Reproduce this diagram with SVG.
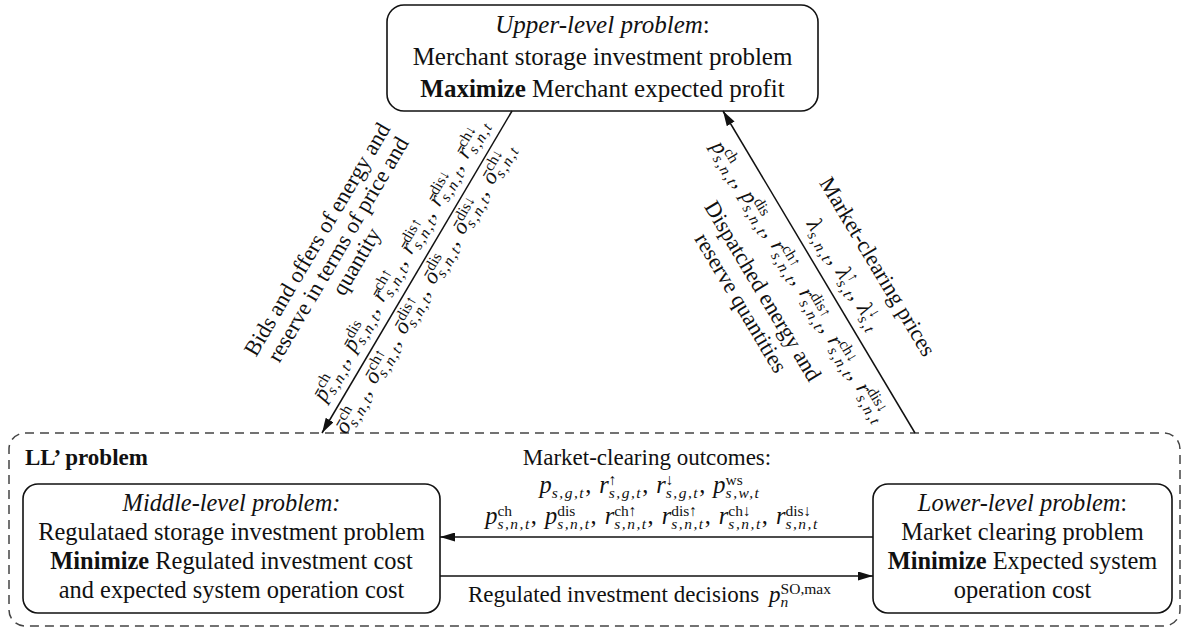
<svg xmlns="http://www.w3.org/2000/svg" width="1183" height="629" viewBox="0 0 1183 629">
<style>
.f{font-family:"Liberation Serif","Times New Roman",serif;fill:#111}
.b{font-size:24.4px}
.u{font-size:25px}
.r{font-size:22.5px}
.mi{font-style:italic}
.it{font-style:italic}
.bd{font-weight:bold}
.sp{font-size:15.5px;font-style:normal}
.sb{font-size:15.5px;font-style:italic;letter-spacing:1.5px}
.box{fill:#fff;stroke:#111;stroke-width:1.6}
.con{stroke:#111;stroke-width:1.5;fill:none}
</style>
<defs>
<marker id="ah" viewBox="0 0 15 9" refX="15" refY="4.5" markerWidth="15" markerHeight="9" markerUnits="userSpaceOnUse" orient="auto" preserveAspectRatio="none"><path d="M0,0 L15,4.5 L0,9 z" fill="#111"/></marker>
</defs>
<rect width="1183" height="629" fill="#fff"/>

<g id="ll-problem">
<rect x="9" y="433" width="1171" height="193" rx="16" fill="none" stroke="#444" stroke-width="1.5" stroke-dasharray="9 6"/>
<text class="f bd" x="25" y="465" font-size="23">LL’ problem</text>
</g>

<g id="upper">
<rect class="box" x="387" y="5" width="431" height="106" rx="17"/>
<text class="f u" x="602.5" y="33" text-anchor="middle"><tspan class="it">Upper-level problem</tspan>:</text>
<text class="f u" x="602.5" y="65" text-anchor="middle">Merchant storage investment problem</text>
<text class="f u" x="602.5" y="97" text-anchor="middle"><tspan class="bd">Maximize</tspan> Merchant expected profit</text>
</g>

<g id="middle">
<rect class="box" x="23" y="484" width="417" height="129" rx="15"/>
<text class="f b it" x="231.5" y="511" text-anchor="middle">Middle-level problem:</text>
<text class="f b" x="231.5" y="540" text-anchor="middle">Regulataed storage investment problem</text>
<text class="f b" x="231.5" y="569" text-anchor="middle"><tspan class="bd">Minimize</tspan> Regulated investment cost</text>
<text class="f b" x="231.5" y="598" text-anchor="middle">and expected system operation cost</text>
</g>

<g id="lower">
<rect class="box" x="873" y="484" width="299" height="129" rx="15"/>
<text class="f b" x="1022.5" y="511" text-anchor="middle"><tspan class="it">Lower-level problem</tspan>:</text>
<text class="f b" x="1022.5" y="540" text-anchor="middle">Market clearing problem</text>
<text class="f b" x="1022.5" y="569" text-anchor="middle"><tspan class="bd">Minimize</tspan> Expected system</text>
<text class="f b" x="1022.5" y="598" text-anchor="middle">operation cost</text>
</g>

<g id="connectors">
<line class="con" x1="512" y1="111" x2="322" y2="433" marker-end="url(#ah)"/>
<line class="con" x1="915" y1="433" x2="723" y2="111" marker-end="url(#ah)"/>
<line class="con" x1="873" y1="537" x2="440" y2="537" marker-end="url(#ah)"/>
<line class="con" x1="440" y1="576" x2="873" y2="576" marker-end="url(#ah)"/>

<g id="label-bids" transform="translate(417 271.5) rotate(-59.54)">
<text class="f r" x="-23" y="-95" text-anchor="middle">Bids and offers of energy and</text>
<text class="f r" x="-21" y="-72" text-anchor="middle">reserve in terms of price and</text>
<text class="f r" x="-22" y="-50" text-anchor="middle">quantity</text>
<text class="f r" x="2" y="-13" text-anchor="middle"><tspan class="mi">p&#x304;</tspan><tspan class="sp" dy="-8">ch</tspan><tspan class="sb" dx="-14.6" dy="13">s,n,t</tspan><tspan dy="-5">, </tspan><tspan class="mi" dx="2">p&#x304;</tspan><tspan class="sp" dy="-8">dis</tspan><tspan class="sb" dx="-18.1" dy="13">s,n,t</tspan><tspan dy="-5">, </tspan><tspan class="mi" dx="2">r&#x304;</tspan><tspan class="sp" dy="-8">ch↑</tspan><tspan class="sb" dx="-22.4" dy="13">s,n,t</tspan><tspan dy="-5">, </tspan><tspan class="mi" dx="2">r&#x304;</tspan><tspan class="sp" dy="-8">dis↑</tspan><tspan class="sb" dx="-25.8" dy="13">s,n,t</tspan><tspan dy="-5">, </tspan><tspan class="mi" dx="2">r&#x304;</tspan><tspan class="sp" dy="-8">dis↓</tspan><tspan class="sb" dx="-25.8" dy="13">s,n,t</tspan><tspan dy="-5">, </tspan><tspan class="mi" dx="2">r&#x304;</tspan><tspan class="sp" dy="-8">ch↓</tspan><tspan class="sb" dx="-22.4" dy="13">s,n,t</tspan></text>
<text class="f r" x="-10" y="22" text-anchor="middle"><tspan class="mi">ō</tspan><tspan class="sp" dy="-8">ch</tspan><tspan class="sb" dx="-14.6" dy="13">s,n,t</tspan><tspan dy="-5">, </tspan><tspan class="mi" dx="2">ō</tspan><tspan class="sp" dy="-8">ch↑</tspan><tspan class="sb" dx="-22.4" dy="13">s,n,t</tspan><tspan dy="-5">, </tspan><tspan class="mi" dx="2">ō</tspan><tspan class="sp" dy="-8">dis↑</tspan><tspan class="sb" dx="-25.8" dy="13">s,n,t</tspan><tspan dy="-5">, </tspan><tspan class="mi" dx="2">ō</tspan><tspan class="sp" dy="-8">dis</tspan><tspan class="sb" dx="-18.1" dy="13">s,n,t</tspan><tspan dy="-5">, </tspan><tspan class="mi" dx="2">ō</tspan><tspan class="sp" dy="-8">dis↓</tspan><tspan class="sb" dx="-25.8" dy="13">s,n,t</tspan><tspan dy="-5">, </tspan><tspan class="mi" dx="2">ō</tspan><tspan class="sp" dy="-8">ch↓</tspan><tspan class="sb" dx="-22.4" dy="13">s,n,t</tspan></text>
</g>

<g id="label-prices" transform="translate(819 272.5) rotate(59.11)">
<text class="f r" x="25" y="-46" text-anchor="middle">Market-clearing prices</text>
<text class="f r" x="15" y="-14" text-anchor="middle"><tspan class="mi">λ</tspan><tspan class="sb" dy="5">s,n,t</tspan><tspan dy="-5">, </tspan><tspan class="mi" dx="2">λ</tspan><tspan class="sp" dy="-8">↑</tspan><tspan class="sb" dx="-7.8" dy="13">s,t</tspan><tspan dy="-5">, </tspan><tspan class="mi" dx="2">λ</tspan><tspan class="sp" dy="-8">↓</tspan><tspan class="sb" dx="-7.8" dy="13">s,t</tspan></text>
<text class="f r" x="-2" y="28" text-anchor="middle"><tspan class="mi">p</tspan><tspan class="sp" dy="-8">ch</tspan><tspan class="sb" dx="-14.6" dy="13">s,n,t</tspan><tspan dy="-5">, </tspan><tspan class="mi" dx="2">p</tspan><tspan class="sp" dy="-8">dis</tspan><tspan class="sb" dx="-18.1" dy="13">s,n,t</tspan><tspan dy="-5">, </tspan><tspan class="mi" dx="2">r</tspan><tspan class="sp" dy="-8">ch↑</tspan><tspan class="sb" dx="-22.4" dy="13">s,n,t</tspan><tspan dy="-5">, </tspan><tspan class="mi" dx="2">r</tspan><tspan class="sp" dy="-8">dis↑</tspan><tspan class="sb" dx="-25.8" dy="13">s,n,t</tspan><tspan dy="-5">, </tspan><tspan class="mi" dx="2">r</tspan><tspan class="sp" dy="-8">ch↓</tspan><tspan class="sb" dx="-22.4" dy="13">s,n,t</tspan><tspan dy="-5">, </tspan><tspan class="mi" dx="2">r</tspan><tspan class="sp" dy="-8">dis↓</tspan><tspan class="sb" dx="-25.8" dy="13">s,n,t</tspan></text>
<text class="f r" x="-13" y="65" text-anchor="middle">Dispatched energy and</text>
<text class="f r" x="-14" y="90" text-anchor="middle">reserve quantities</text>
</g>

<g id="label-outcomes">
<text class="f" x="647" y="465" text-anchor="middle" font-size="23">Market-clearing outcomes:</text>
<text class="f b" x="650" y="493" text-anchor="middle"><tspan class="mi">p</tspan><tspan class="sb" dy="5">s,g,t</tspan><tspan dy="-5">, </tspan><tspan class="mi" dx="2">r</tspan><tspan class="sp" dy="-8">↑</tspan><tspan class="sb" dx="-7.8" dy="13">s,g,t</tspan><tspan dy="-5">, </tspan><tspan class="mi" dx="2">r</tspan><tspan class="sp" dy="-8">↓</tspan><tspan class="sb" dx="-7.8" dy="13">s,g,t</tspan><tspan dy="-5">, </tspan><tspan class="mi" dx="2">p</tspan><tspan class="sp" dy="-8">ws</tspan><tspan class="sb" dx="-17.2" dy="13">s,w,t</tspan></text>
<text class="f b" x="652" y="524" text-anchor="middle"><tspan class="mi">p</tspan><tspan class="sp" dy="-8">ch</tspan><tspan class="sb" dx="-14.6" dy="13">s,n,t</tspan><tspan dy="-5">, </tspan><tspan class="mi" dx="2">p</tspan><tspan class="sp" dy="-8">dis</tspan><tspan class="sb" dx="-18.1" dy="13">s,n,t</tspan><tspan dy="-5">, </tspan><tspan class="mi" dx="2">r</tspan><tspan class="sp" dy="-8">ch↑</tspan><tspan class="sb" dx="-22.4" dy="13">s,n,t</tspan><tspan dy="-5">, </tspan><tspan class="mi" dx="2">r</tspan><tspan class="sp" dy="-8">dis↑</tspan><tspan class="sb" dx="-25.8" dy="13">s,n,t</tspan><tspan dy="-5">, </tspan><tspan class="mi" dx="2">r</tspan><tspan class="sp" dy="-8">ch↓</tspan><tspan class="sb" dx="-22.4" dy="13">s,n,t</tspan><tspan dy="-5">, </tspan><tspan class="mi" dx="2">r</tspan><tspan class="sp" dy="-8">dis↓</tspan><tspan class="sb" dx="-25.8" dy="13">s,n,t</tspan></text>
</g>

<g id="label-decisions">
<text class="f" x="468" y="602" font-size="23">Regulated investment decisions <tspan class="mi" dx="4">p</tspan><tspan class="sb" dy="5">n</tspan><tspan class="sp" dx="-9.2" dy="-13">SO,max</tspan></text>
</g>
</g>
</svg>
